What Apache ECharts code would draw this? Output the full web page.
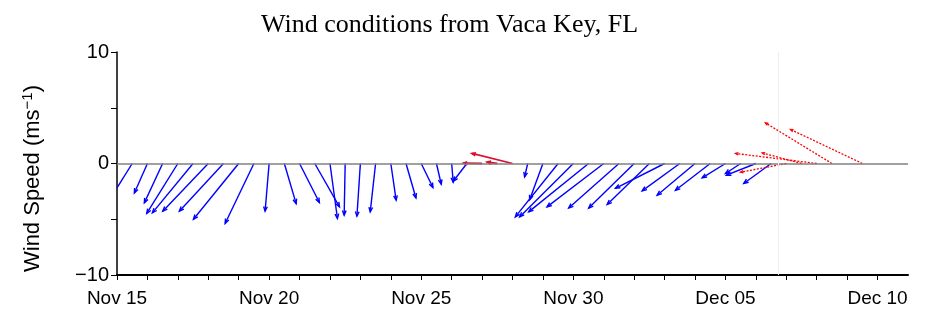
<!DOCTYPE html>
<html>
<head>
<meta charset="utf-8">
<script src="https://cdn.jsdelivr.net/npm/echarts@6/dist/echarts.min.js"></script>
<style>
  html, body { margin: 0; padding: 0; background: #fff; }
  #chart { width: 932px; height: 317px; }
</style>
</head>
<body>
<div id="chart"></div>
<script>
// observed winds (blue), every 12 h; u = east, v = north (m/s)
const obsTimes = [
  '2016-11-15T12:00Z','2016-11-16T00:00Z','2016-11-16T12:00Z','2016-11-17T00:00Z','2016-11-17T12:00Z',
  '2016-11-18T00:00Z','2016-11-18T12:00Z','2016-11-19T00:00Z','2016-11-19T12:00Z','2016-11-20T00:00Z',
  '2016-11-20T12:00Z','2016-11-21T00:00Z','2016-11-21T12:00Z','2016-11-22T00:00Z','2016-11-22T12:00Z',
  '2016-11-23T00:00Z','2016-11-23T12:00Z','2016-11-24T00:00Z','2016-11-24T12:00Z','2016-11-25T00:00Z',
  '2016-11-25T12:00Z','2016-11-26T00:00Z','2016-11-26T12:00Z',
  '2016-11-28T12:00Z','2016-11-29T00:00Z','2016-11-29T12:00Z','2016-11-30T00:00Z','2016-11-30T12:00Z',
  '2016-12-01T00:00Z','2016-12-01T12:00Z','2016-12-02T00:00Z','2016-12-02T12:00Z','2016-12-03T00:00Z',
  '2016-12-03T12:00Z','2016-12-04T00:00Z','2016-12-04T12:00Z','2016-12-05T00:00Z','2016-12-05T12:00Z',
  '2016-12-06T00:00Z','2016-12-06T12:00Z'
];
const obsU = [
  -2.0, -1.17, -1.64, -2.79, -3.65, -4.08, -3.96, -4.06, -2.58, -0.36,
  1.06, 1.78, 2.22, 0.67, -0.09, -0.31, -0.48, 0.48, 0.89, 1.05,
  0.43, 0.14, -1.22,
  -0.28, -1.19, -3.84, -4.82, -5.37, -5.09, -4.51, -4.08, -3.79, -4.41,
  -3.38, -3.4, -3.12, -2.09, -1.36, -2.64, -2.45
];
const obsV = [
  -3.2, -2.64, -3.53, -4.48, -4.43, -4.28, -4.28, -5.0, -5.38, -4.28,
  -3.6, -3.5, -3.89, -4.93, -4.64, -4.73, -4.34, -3.29, -3.09, -2.15,
  -1.86, -1.68, -1.59,
  -1.2, -3.25, -4.79, -4.79, -4.34, -3.89, -4.0, -4.0, -3.68, -2.22,
  -2.45, -2.84, -2.4, -1.29, -0.9, -1.05, -1.79
];

// northerly-flow period (red)
const redTimes = ['2016-11-27T00:00Z','2016-11-27T12:00Z','2016-11-28T00:00Z'];
const redU = [-1.66, -0.9, -3.63];
const redV = [0.03, 0.12, 0.9];

// forecast (red dotted)
const fcTimes = ['2016-12-07T00:00Z','2016-12-07T12:00Z','2016-12-08T00:00Z','2016-12-08T12:00Z','2016-12-09T12:00Z'];
const fcU = [-4.1, -3.52, -7.28, -5.96, -6.44];
const fcV = [-0.78, 0.95, 0.9, 3.64, 3.05];

const nowTime = '2016-12-06T18:00Z';
const xStart = '2016-11-15T00:00Z';
const xEnd = '2016-12-11T00:00Z';
const yTicks = [-10, 0, 10];
const months = ['Jan','Feb','Mar','Apr','May','Jun','Jul','Aug','Sep','Oct','Nov','Dec'];

const DAY = 86400000;
const t0 = Date.parse(xStart);

function toData(times, u, v) {
  return times.map((t, i) => [Date.parse(t), u[i], v[i]]);
}

function arrows(color, dash, width, headLen) {
  return function (params, api) {
    const t = api.value(0), u = api.value(1), v = api.value(2);
    const p0 = api.coord([t, 0]);
    const k = api.size([0, 1])[1];   // pixels per m/s
    const p1 = [p0[0] + u * k, p0[1] - v * k];
    const ang = Math.atan2(p1[1] - p0[1], p1[0] - p0[0]);
    const h = headLen, a = 0.38;
    const head = [
      [p1[0] - h * Math.cos(ang - a), p1[1] - h * Math.sin(ang - a)],
      p1,
      [p1[0] - h * Math.cos(ang + a), p1[1] - h * Math.sin(ang + a)]
    ];
    return {
      type: 'group',
      children: [
        { type: 'line', shape: { x1: p0[0], y1: p0[1], x2: p1[0], y2: p1[1] },
          style: { stroke: color, lineWidth: width, lineDash: dash } },
        { type: 'polyline', shape: { points: head },
          style: { stroke: color, fill: null, lineWidth: width } }
      ]
    };
  };
}

const chart = echarts.init(document.getElementById('chart'));
chart.setOption({
  animation: false,
  title: {
    text: 'Wind conditions from Vaca Key, FL',
    left: 256,
    top: 7,
    textStyle: { fontFamily: 'Liberation Serif', fontWeight: 'normal', fontSize: 26, color: '#000' }
  },
  grid: { left: 117, right: 24, top: 52, bottom: 42 },
  xAxis: {
    type: 'value',
    min: t0,
    max: Date.parse(xEnd),
    interval: DAY,
    splitLine: { show: false },
    axisLine: { onZero: false, lineStyle: { color: '#000', width: 2 } },
    axisTick: { length: 5, lineStyle: { color: '#000' } },
    axisLabel: {
      color: '#000', fontFamily: 'Liberation Sans', fontSize: 19, margin: 14,
      showMaxLabel: false,
      formatter: function (val) {
        const d = Math.round((val - t0) / DAY);
        if (d % 5 !== 0) return '';
        const dt = new Date(val);
        const dd = dt.getUTCDate();
        return months[dt.getUTCMonth()] + ' ' + (dd < 10 ? '0' + dd : dd);
      }
    }
  },
  yAxis: {
    type: 'value',
    min: -10, max: 10, interval: 5,
    name: '{a|Wind Speed (ms}{s|\u22121}{a|)}',
    nameLocation: 'middle',
    nameGap: 72,
    nameRotate: 90,
    nameTextStyle: {
      padding: [0, 30, 0, 0],
      rich: {
        a: { fontFamily: 'Liberation Sans', fontSize: 22, color: '#000' },
        s: { fontFamily: 'Liberation Sans', fontSize: 15, color: '#000', verticalAlign: 'top', padding: [0, 0, 10, 0] }
      }
    },
    splitLine: { show: false },
    axisLine: { show: true, lineStyle: { color: '#000', width: 1.5 } },
    axisTick: { length: 6, lineStyle: { color: '#000' } },
    axisLabel: {
      color: '#000', fontFamily: 'Liberation Sans', fontSize: 20, margin: 8,
      formatter: function (v) {
        if (yTicks.indexOf(v) < 0) return '';
        return v < 0 ? '\u2212' + Math.abs(v) : String(v);
      }
    }
  },
  series: [
    {
      type: 'line',
      data: [],
      z: 1,
      markLine: {
        silent: true,
        symbol: 'none',
        label: { show: false },
        data: [
          { yAxis: 0, lineStyle: { color: '#808080', width: 1.5, type: 'solid' } },
          { xAxis: Date.parse(nowTime), lineStyle: { color: '#eeeeee', width: 1, type: 'solid' } }
        ]
      }
    },
    {
      type: 'custom', name: 'observed', clip: true, z: 3,
      renderItem: arrows('#0000ff', null, 1.4, 5),
      data: toData(obsTimes, obsU, obsV)
    },
    {
      type: 'custom', name: 'north', clip: true, z: 3,
      renderItem: arrows('#dd1030', null, 1.8, 4),
      data: toData(redTimes, redU, redV)
    },
    {
      type: 'custom', name: 'forecast', clip: true, z: 3,
      renderItem: arrows('#ff0000', [2, 1.5], 1.3, 3),
      data: toData(fcTimes, fcU, fcV)
    }
  ]
});
</script>
</body>
</html>
